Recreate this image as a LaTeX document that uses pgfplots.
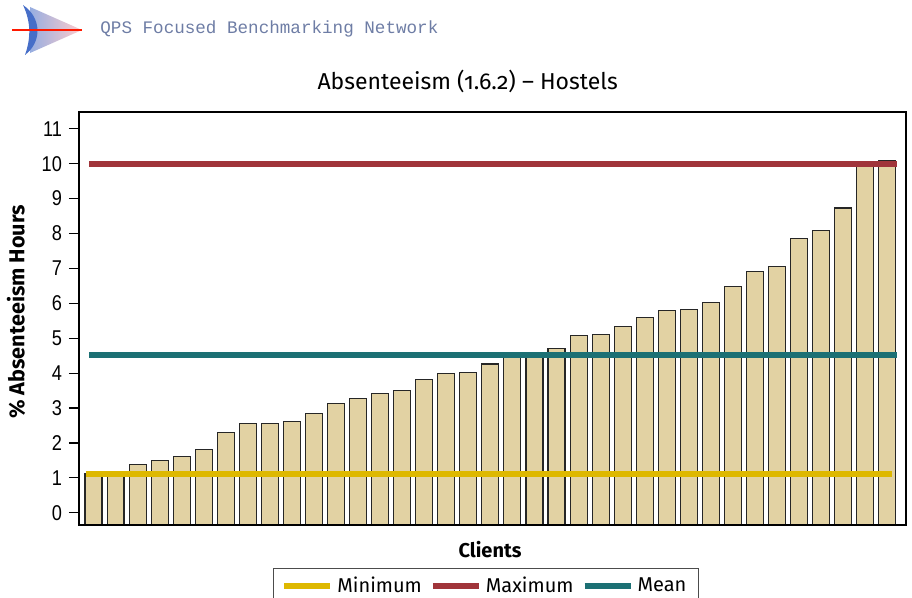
\documentclass[border=0pt]{standalone}
\usepackage{pgfplots}
\pgfplotsset{compat=1.18}
\usepackage{pgfplotstable}
\usepackage{fontspec}
\setmainfont{Fira Sans}[Numbers=OldStyle]
\newfontfamily\tickfont{Liberation Sans}[FakeStretch=0.85]
\newfontfamily\hdrfont{Liberation Mono}
\definecolor{bartan}{RGB}{226,210,163}
\definecolor{minyel}{RGB}{222,184,0}
\definecolor{maxred}{RGB}{160,52,58}
\definecolor{meanteal}{RGB}{28,112,116}
\definecolor{hdr}{RGB}{110,125,165}
\definecolor{logoblue}{RGB}{70,110,200}

\pgfplotstableread{
x y
1 1.13
2 1.15
3 1.38
4 1.51
5 1.62
6 1.80
7 2.29
8 2.55
9 2.55
10 2.62
11 2.84
12 3.14
13 3.27
14 3.42
15 3.50
16 3.82
17 3.98
18 4.03
19 4.26
20 4.45
21 4.47
22 4.71
23 5.08
24 5.11
25 5.33
26 5.59
27 5.80
28 5.83
29 6.03
30 6.48
31 6.92
32 7.06
33 7.86
34 8.09
35 8.73
36 9.98
37 10.09
}\bardata

\begin{document}
\begin{tikzpicture}
% logo
\shade[left color=logoblue!70, right color=red!25, opacity=0.8] (15pt,295.5pt) -- (41pt,284pt) -- (15pt,272.5pt) -- cycle;
\fill[logoblue] (11.5pt,296.5pt) .. controls (15.5pt,288pt) and (15.5pt,280pt) .. (12.5pt,271.5pt)
   .. controls (21pt,278pt) and (21pt,290pt) .. (11.5pt,296.5pt) -- cycle;
\draw[red!80!orange, line width=0.9pt] (6pt,284pt) -- (41pt,284pt);
\node[anchor=west, font=\hdrfont\fontsize{8.8}{10}\selectfont, text=hdr, inner sep=0pt] at (50pt,284.5pt) {QPS Focused Benchmarking Network};

% bars: drawn in an axis whose lower limit is the frame's bottom edge
\begin{axis}[
  at={(39.5pt,36.5pt)}, anchor=south west,
  width=413.5pt, height=206.5pt, scale only axis,
  xmin=0.342, xmax=37.85, ymin=0, ymax=11.83,
  hide axis, ybar, bar width=0.77,
]
\addplot[fill=bartan, draw=black!85, line width=0.55pt] table[x=x, y expr=\thisrow{y}+0.35] \bardata;
\end{axis}

\begin{axis}[
  at={(39.5pt,36.5pt)}, anchor=south west,
  width=413.5pt, height=206.5pt, scale only axis,
  xmin=0.342, xmax=37.85, ymin=-0.35, ymax=11.48,
  ytick={0,1,2,3,4,5,6,7,8,9,10,11},
  yticklabels={0,1,2,3,4,5,6,7,8,9,10,11},
  xtick=\empty,
  ytick pos=left, tick align=outside, major tick length=5pt,
  axis line style={line width=0.7pt},
  every tick/.style={black, line width=0.6pt},
  yticklabel style={font=\tickfont\fontsize{10.7}{12}\selectfont},
  title={Absenteeism (1.6.2) -- Hostels},
  title style={at={(axis description cs:0.470,1.046)}, anchor=center, yshift=0pt, font=\fontsize{11.5}{13}\selectfont},
  xlabel={Clients},
  xlabel style={at={(axis description cs:0.497,-0.0605)}, anchor=center, font=\bfseries\fontsize{10}{12}\selectfont},
  ylabel={\% Absenteeism Hours},
  ylabel style={at={(axis description cs:-0.076,0.516)}, anchor=center, font=\bfseries\fontsize{10.8}{12}\selectfont},
  legend columns=3,
  legend style={at={(0.492,-0.104)}, anchor=north, draw=black!70, line width=0.5pt,
    font=\fontsize{10}{12}\selectfont, inner xsep=4pt, inner ysep=2pt,
    /tikz/every even column/.append style={column sep=2pt}},
  legend image code/.code={\draw[#1] (0pt,0pt) -- (23pt,0pt);},
]
\addplot[minyel, line width=3pt] coordinates {(0.66,1.12) (37.2,1.12)};
\addlegendentry{Minimum}
\addplot[maxred, line width=3pt] coordinates {(0.8,10.0) (37.43,10.0)};
\addlegendentry{Maximum}
\addplot[meanteal, line width=3pt] coordinates {(0.8,4.53) (37.43,4.53)};
\addlegendentry{Mean}
\end{axis}
\pgfresetboundingbox
\useasboundingbox (0pt,0pt) rectangle (456pt,299pt);
\end{tikzpicture}
\end{document}
